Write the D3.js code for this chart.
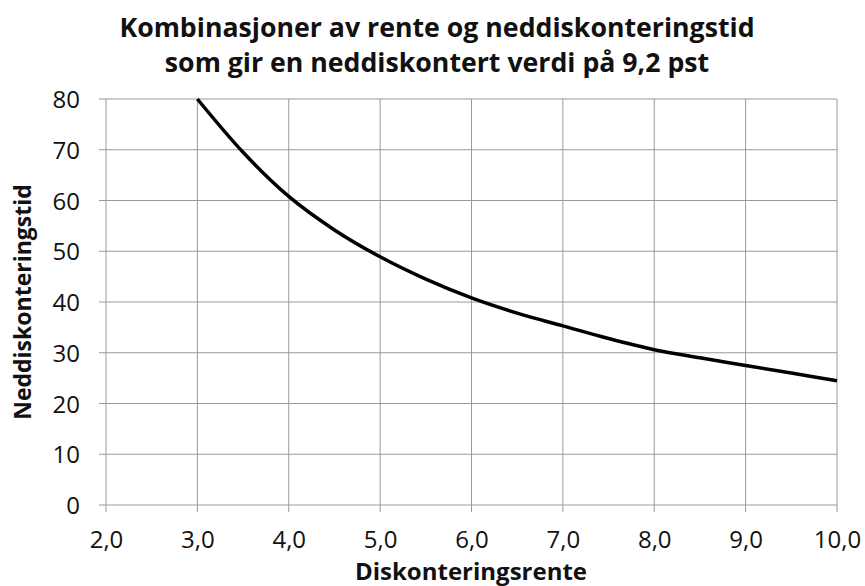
<!DOCTYPE html>
<html><head><meta charset="utf-8">
<script src="https://cdn.jsdelivr.net/npm/d3@7"></script>
<style>body{margin:0;background:#fff}svg{display:block}</style>
</head><body>
<svg id="c" width="865" height="586"></svg>
<script>
const titleLines = ["Kombinasjoner av rente og neddiskonteringstid", "som gir en neddiskontert verdi på 9,2 pst"];
const xLabel = "Diskonteringsrente";
const yLabel = "Neddiskonteringstid";
const rate = [3.0, 3.5, 4.0, 4.5, 5.0, 5.5, 6.0, 6.5, 7.0, 7.5, 8.0, 8.5, 9.0, 9.5, 10.0];
const years = [80, 69.5, 60.8, 54.2, 48.9, 44.5, 40.8, 37.8, 35.3, 32.8, 30.6, 29.0, 27.5, 26.0, 24.5];
const xTicks = [2, 3, 4, 5, 6, 7, 8, 9, 10];
const yTicks = [0, 10, 20, 30, 40, 50, 60, 70, 80];

const svg = d3.select("#c");
const m = {l: 106, r: 837, t: 99, b: 505};
const x = d3.scaleLinear().domain([2, 10]).range([m.l, m.r]);
const y = d3.scaleLinear().domain([0, 80]).range([m.b, m.t]);
const font = "'Open Sans', Lato, sans-serif";
const fmt = d => d3.format(".1f")(d).replace(".", ",");

// grid
const g = svg.append("g");
g.selectAll(".hg").data(yTicks).enter().append("line")
  .attr("x1", m.l - 7).attr("x2", m.r).attr("y1", d => y(d)).attr("y2", d => y(d))
  .attr("stroke", "#9a9a9a").attr("stroke-width", 1);
g.selectAll(".vg").data(xTicks).enter().append("line")
  .attr("y1", m.t).attr("y2", m.b + 7).attr("x1", d => x(d)).attr("x2", d => x(d))
  .attr("stroke", "#9a9a9a").attr("stroke-width", 1);

// axis labels via d3 axes (no domain lines)
const ax = svg.append("g").attr("transform", `translate(0,${m.b})`)
  .call(d3.axisBottom(x).tickValues(xTicks).tickFormat(fmt).tickSize(0).tickPadding(43));
const ay = svg.append("g").attr("transform", `translate(${m.l},0)`)
  .call(d3.axisLeft(y).tickValues(yTicks).tickSize(0).tickPadding(26));
[ax, ay].forEach(a => {
  a.select(".domain").remove();
  a.selectAll("text").attr("font-family", font).attr("font-size", 24).attr("fill", "#111");
});
ax.selectAll("text").attr("dy", "0");
ay.selectAll("text").attr("dy", "0.36em");

// line
const line = d3.line().x((d, i) => x(rate[i])).y(d => y(d)).curve(d3.curveMonotoneX);
svg.append("path").datum(years).attr("d", line)
  .attr("fill", "none").attr("stroke", "#000").attr("stroke-width", 3.5);

// title
svg.selectAll(".title").data(titleLines).enter().append("text")
  .attr("x", 437).attr("y", (d, i) => 37 + i * 35)
  .attr("text-anchor", "middle").attr("font-family", font).attr("font-weight", 700)
  .attr("font-size", 26.7).attr("fill", "#111").text(d => d);

svg.append("text").attr("x", 471).attr("y", 580).attr("text-anchor", "middle")
  .attr("font-family", font).attr("font-weight", 700).attr("font-size", 24).attr("fill", "#111").text(xLabel);
svg.append("text").attr("transform", `translate(31,${(m.t + m.b) / 2}) rotate(-90)`)
  .attr("text-anchor", "middle").attr("font-family", font).attr("font-weight", 700)
  .attr("font-size", 23).attr("fill", "#111").text(yLabel);
</script>
</body></html>
